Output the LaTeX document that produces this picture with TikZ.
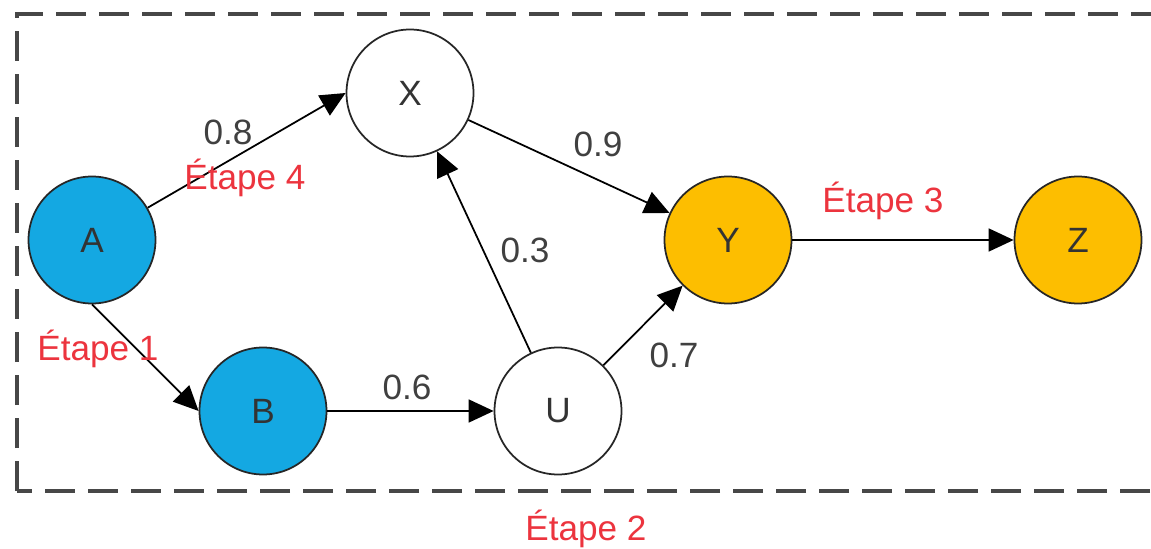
\documentclass[tikz,border=0pt]{standalone}
\usepackage{fontspec}
\setmainfont{Liberation Sans}
\usetikzlibrary{arrows.meta}
\definecolor{etapered}{RGB}{236,52,62}
\definecolor{nodeblue}{RGB}{20,168,226}
\definecolor{nodeamber}{RGB}{253,190,0}
\definecolor{labelgray}{RGB}{64,64,64}
\tikzset{
	state/.style={circle, draw=black!85, line width=1pt, minimum size=2.54cm, inner sep=0pt, font=\fontsize{20}{24}\selectfont, text=black!80},
	flow/.style={line width=1pt, -{Triangle[length=0.5cm,width=0.46cm]}},
	weight/.style={anchor=base, font=\fontsize{20}{24}\selectfont, text=labelgray},
	etape/.style={anchor=base, font=\fontsize{20}{24}\selectfont, text=etapered},
}

\begin{document}
\begin{tikzpicture}
			%%%%% START %%%%%
			
			\useasboundingbox (0, 0) rectangle (23.02, 10.96);
			
			\draw[line width=2pt, color=black!72, dash pattern=on 0.6cm off 0.26cm] (0.34, 1.14) rectangle (23.2, 10.68);
			
			\node[state, fill=nodeblue] (A) at (1.84, 6.16) {A};
			\node[state, fill=white] (X) at (8.20, 9.10) {X};
			\node[state, fill=nodeamber] (Y) at (14.56, 6.16) {Y};
			\node[state, fill=nodeamber] (Z) at (21.56, 6.16) {Z};
			\node[state, fill=nodeblue] (B) at (5.26, 2.74) {B};
			\node[state, fill=white] (U) at (11.16, 2.74) {U};
			
			\draw[flow] (A) -- (X.west);
			\draw[flow] (X) -- (Y);
			\draw[flow] (A.south) -- (B.west);
			\draw[flow] (B) -- (U);
			\draw[flow] (U) -- (X);
			\draw[flow] (U) -- (Y);
			\draw[flow] (Y) -- (Z);
			
			\node[weight] (w08) at (4.56, 8.06) {0.8};
			\node[weight] (w09) at (11.96, 7.82) {0.9};
			\node[weight] (w03) at (10.50, 5.70) {0.3};
			\node[weight] (w06) at (8.14, 2.96) {0.6};
			\node[weight] (w07) at (13.48, 3.60) {0.7};
			
			\node[etape] (e1) at (1.96, 3.76) {Étape 1};
			\node[etape] (e2) at (11.72, 0.16) {Étape 2};
			\node[etape] (e3) at (17.66, 6.70) {Étape 3};
			\node[etape] (e4) at (4.90, 7.16) {Étape 4};
			
			%%%%% END %%%%%
\end{tikzpicture}
\end{document}
